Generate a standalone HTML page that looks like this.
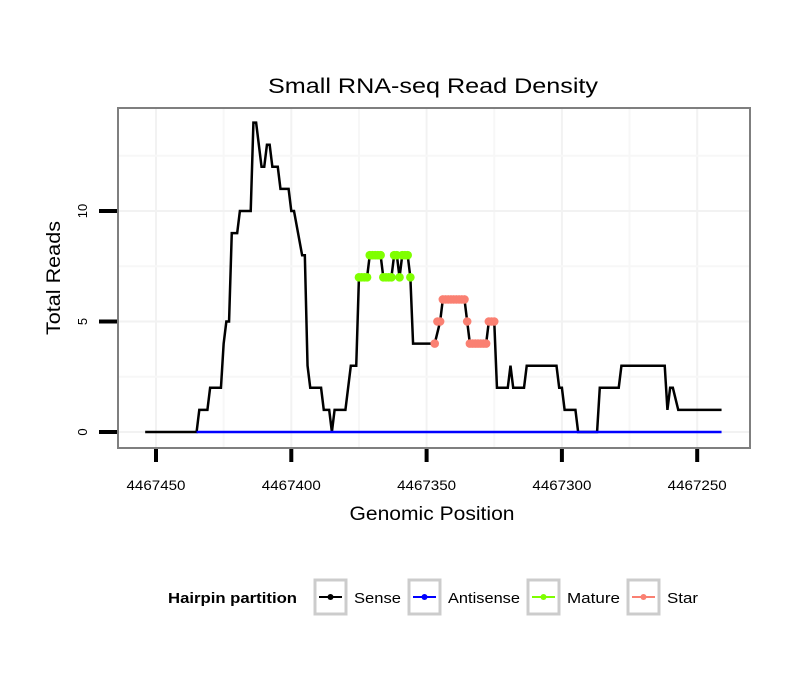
<!DOCTYPE html>
<html><head><meta charset="utf-8"><style>
html,body{margin:0;padding:0;background:#fff;}
svg{display:block;font-family:"Liberation Sans",sans-serif;}
</style></head><body>
<svg id="chart" width="810" height="690" viewBox="0 0 810 690">
<defs><clipPath id="pc"><rect x="118" y="108" width="632" height="340"/></clipPath></defs>
<text x="433" y="93" font-size="21" text-anchor="middle" textLength="330" lengthAdjust="spacingAndGlyphs">Small RNA-seq Read Density</text>
<rect x="118" y="108" width="632" height="340" fill="#fff"/>
<g id="grid" clip-path="url(#pc)"></g>
<g id="series"></g>
<rect x="118" y="108" width="632" height="340" fill="none" stroke="#7f7f7f" stroke-width="2"/>
<g id="axes"></g>
<text x="432" y="520" font-size="19" text-anchor="middle" textLength="165" lengthAdjust="spacingAndGlyphs">Genomic Position</text>
<text transform="translate(60,278) rotate(-90)" font-size="19" text-anchor="middle" textLength="114" lengthAdjust="spacingAndGlyphs">Total Reads</text>
<g>
<text x="168" y="603" font-size="15" font-weight="bold" textLength="129" lengthAdjust="spacingAndGlyphs">Hairpin partition</text>
<g><rect x="315" y="580" width="31" height="34" fill="#fff" stroke="#cccccc" stroke-width="3"/><line x1="319" y1="597" x2="342" y2="597" stroke="#000" stroke-width="2"/><circle cx="330.5" cy="597" r="3" fill="#000"/><text x="354" y="603" font-size="15" textLength="47" lengthAdjust="spacingAndGlyphs">Sense</text></g>
<g><rect x="409" y="580" width="31" height="34" fill="#fff" stroke="#cccccc" stroke-width="3"/><line x1="413" y1="597" x2="436" y2="597" stroke="#0000ff" stroke-width="2"/><circle cx="424.5" cy="597" r="3" fill="#0000ff"/><text x="448" y="603" font-size="15" textLength="72" lengthAdjust="spacingAndGlyphs">Antisense</text></g>
<g><rect x="528" y="580" width="31" height="34" fill="#fff" stroke="#cccccc" stroke-width="3"/><line x1="532" y1="597" x2="555" y2="597" stroke="#7fff00" stroke-width="2"/><circle cx="543.5" cy="597" r="3" fill="#7fff00"/><text x="567" y="603" font-size="15" textLength="53" lengthAdjust="spacingAndGlyphs">Mature</text></g>
<g><rect x="628" y="580" width="31" height="34" fill="#fff" stroke="#cccccc" stroke-width="3"/><line x1="632" y1="597" x2="655" y2="597" stroke="#fa8072" stroke-width="2"/><circle cx="643.5" cy="597" r="3" fill="#fa8072"/><text x="667" y="603" font-size="15" textLength="31" lengthAdjust="spacingAndGlyphs">Star</text></g>
</g>
</svg>
<script>
const sensePositions = [4467454,4467435,4467434,4467431,4467430,4467426,4467425,4467424,4467423,4467422,4467420,4467419,4467415,4467414,4467413,4467411,4467410,4467409,4467408,4467407,4467405,4467404,4467401,4467400,4467399,4467396,4467395,4467394,4467393,4467389,4467388,4467386,4467385,4467384,4467380,4467378,4467376,4467375,4467372,4467371,4467367,4467366,4467363,4467362,4467361,4467360,4467359,4467357,4467356,4467355,4467347,4467345,4467344,4467336,4467335,4467334,4467328,4467327,4467325,4467324,4467320,4467319,4467318,4467314,4467313,4467302,4467301,4467300,4467299,4467295,4467294,4467287,4467286,4467279,4467278,4467262,4467261,4467260,4467259,4467257,4467241];
const senseValues = [0,0,1,1,2,2,4,5,5,9,9,10,10,14,14,12,12,13,13,12,12,11,11,10,10,8,8,3,2,2,1,1,0,1,1,3,3,7,7,8,8,7,7,8,8,7,8,8,7,4,4,5,6,6,5,4,4,5,5,2,2,3,2,2,3,3,2,2,1,1,0,0,2,2,3,3,1,2,2,1,1];
const antisensePositions = [4467435,4467241];
const antisenseValues = [0,0];
const matureRange = [4467375,4467356];
const starRange = [4467347,4467325];
const xTicks = [4467450,4467400,4467350,4467300,4467250];
const yTicks = [0,5,10];

const NS="http://www.w3.org/2000/svg";
function xS(p){return 156+(4467450-p)*2.706;}
function yS(v){return 432-v*22.1;}
function mk(tag,attrs,parent){const e=document.createElementNS(NS,tag);for(const k in attrs)e.setAttribute(k,attrs[k]);parent.appendChild(e);return e;}
function interp(p){for(let i=0;i<sensePositions.length-1;i++){const a=sensePositions[i],b=sensePositions[i+1];if(p<=a&&p>=b){const t=a===b?0:(a-p)/(a-b);return senseValues[i]+t*(senseValues[i+1]-senseValues[i]);}}return 0;}

const grid=document.getElementById('grid');
for(let i=0;i<xTicks.length;i++){
  const g=mk('line',{x1:xS(xTicks[i]),x2:xS(xTicks[i]),y1:108,y2:448,stroke:'#f2f2f2','stroke-width':2},grid);
  
  
  const m=xTicks[i]-25;
  const g2=mk('line',{x1:xS(m),x2:xS(m),y1:108,y2:448,stroke:'#f7f7f7','stroke-width':2},grid);
  
  
}
for(let i=0;i<yTicks.length;i++){
  const g=mk('line',{x1:118,x2:750,y1:yS(yTicks[i]),y2:yS(yTicks[i]),stroke:'#f2f2f2','stroke-width':2},grid);
  
  
  const g2=mk('line',{x1:118,x2:750,y1:yS(yTicks[i]+2.5),y2:yS(yTicks[i]+2.5),stroke:'#f7f7f7','stroke-width':2},grid);
  
  
}

const series=document.getElementById('series');
const sense=mk('polyline',{points:sensePositions.map((p,i)=>xS(p)+','+yS(senseValues[i])).join(' '),fill:'none',stroke:'#000','stroke-width':2.5,'stroke-linejoin':'miter'},series);


const anti=mk('polyline',{points:antisensePositions.map((p,i)=>xS(p)+','+yS(antisenseValues[i])).join(' '),fill:'none',stroke:'#0000ff','stroke-width':2.5},series);


function dots(range,color,name){
  for(let p=range[0];p>=range[1];p--){
    const c=mk('circle',{cx:xS(p),cy:yS(Math.round(interp(p))),r:4.3,fill:color},series);
    
    
  }
}
dots(matureRange,'#7fff00','mature-point');
dots(starRange,'#fa8072','star-point');

const axes=document.getElementById('axes');
for(let i=0;i<xTicks.length;i++){
  const t=mk('line',{x1:xS(xTicks[i]),x2:xS(xTicks[i]),y1:449,y2:462,stroke:'#000','stroke-width':4},axes);
  
  
  const l=mk('text',{x:xS(xTicks[i]),y:490,'font-size':14,'text-anchor':'middle',textLength:59,lengthAdjust:'spacingAndGlyphs'},axes);
  l.textContent=xTicks[i];
  
  
}
for(let i=0;i<yTicks.length;i++){
  const t=mk('line',{x1:99,x2:117,y1:yS(yTicks[i]),y2:yS(yTicks[i]),stroke:'#000','stroke-width':4},axes);
  
  
  const l=mk('text',{transform:'translate(87,'+yS(yTicks[i])+') rotate(-90)','font-size':13,'text-anchor':'middle'},axes);
  l.textContent=yTicks[i];
  
  
}
</script>
</body></html>
